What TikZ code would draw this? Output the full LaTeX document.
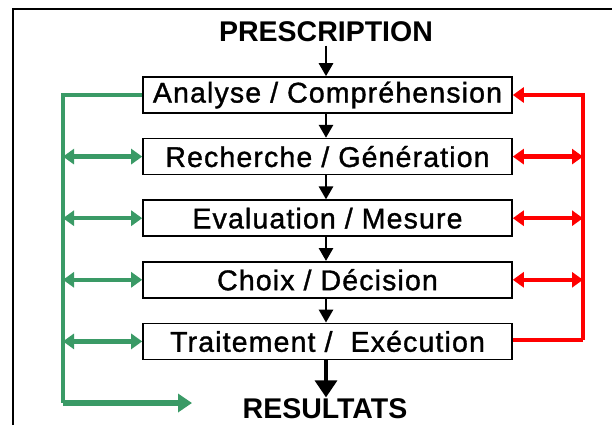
\documentclass[tikz,border=0pt]{standalone}
\usepackage{fontspec}
\setmainfont{Liberation Sans}
\newfontfamily\espace[LetterSpace=4, FakeBold=1.2]{Liberation Sans}
\usetikzlibrary{arrows.meta, positioning}
\definecolor{vertBoucle}{HTML}{3A9A66}
\definecolor{rougeBoucle}{HTML}{FF0000}

\begin{document}
\begin{tikzpicture}[x=1pt, y=-1pt,
        node distance=24pt,
        etape/.style={draw, line width=1.6pt, minimum width=369pt, minimum height=36pt,
            inner sep=0pt, font=\espace\fontsize{28.5}{30}\selectfont},
        titre/.style={font=\fontsize{28.5}{31}\selectfont\bfseries},
        suite/.style={-{Triangle[length=13pt, width=14pt]}, line width=2.8pt},
        vert/.style={vertBoucle, line width=3.5pt},
        rouge/.style={rougeBoucle, line width=3.5pt},
        dbl/.style={line width=4.5pt, {Triangle[length=11pt, width=15pt]}-{Triangle[length=11pt, width=15pt]}}
    ]
        \useasboundingbox (0,0) rectangle (612,425);
        \draw[line width=2pt] (13,425) -- (13,9) -- (612,9);

        \node[etape] (a) at (327.5,95) {Analyse / Compréhension};
        \node[etape, below=of a] (b) {Recherche / Génération};
        \node[etape, below=of b] (c) {Evaluation / Mesure};
        \node[etape, below=of c] (d) {Choix / Décision};
        \node[etape, below=of d] (e) {Traitement /\ \ Exécution};
        \node[titre] (p) at (326,32) {PRESCRIPTION};
        \node[titre] (r) at (325,409) {RESULTATS};

        \draw[suite] (p) -- (p |- a.north);
        \draw[suite] (a.south -| p) -- (b.north -| p);
        \draw[suite] (b.south -| p) -- (c.north -| p);
        \draw[suite] (c.south -| p) -- (d.north -| p);
        \draw[suite] (d.south -| p) -- (e.north -| p);
        \draw[suite, -{Triangle[length=17pt, width=22pt]}, line width=3.5pt] (e.south -| p) -- ([yshift=-2pt]r.north -| p);

        % boucle verte
        \coordinate (g1) at (63,95);
        \coordinate (g2) at (63,403);
        \coordinate (g3) at (192,403);
        \draw[vert] (a.west) -- (g1) -- (g2);
        \draw[vert, line width=5.5pt, -{Triangle[length=14pt, width=18pt]}] (g2) -- (g3);
        \foreach \n in {b,c,d,e}
            \draw[vert, dbl] (g1 |- \n.west) -- (\n.west);

        % boucle rouge
        \coordinate (h1) at (583,95);
        \coordinate (h2) at (583,340);
        \draw[rouge, -{Triangle[length=11pt, width=15pt]}] (h2) -- (h1) -- (a.east);
        \draw[rouge] (e.east |- h2) -- (h2);
        \foreach \n in {b,c,d}
            \draw[rouge, dbl] (\n.east) -- (h1 |- \n.east);
    \end{tikzpicture}
\end{document}
